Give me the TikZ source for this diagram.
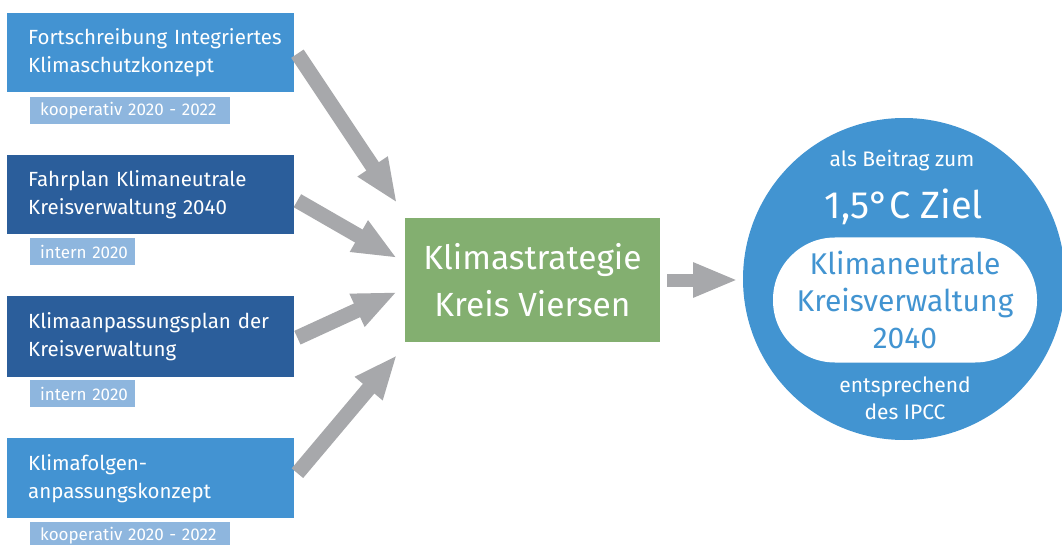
\documentclass[tikz,border=0pt]{standalone}
\usepackage{fontspec}
\setmainfont{Fira Sans}
\newfontfamily\lightf{Fira Sans}
\usetikzlibrary{arrows.meta,calc}
\definecolor{lblue}{HTML}{4393D2}
\definecolor{dblue}{HTML}{2B5E9B}
\definecolor{tblue}{HTML}{8EB6DE}
\definecolor{kgreen}{HTML}{83AF70}
\definecolor{agray}{HTML}{A7A8AB}
\definecolor{cblue}{HTML}{4294D1}
\tikzset{
  srcbox/.style={draw=none, anchor=north west, minimum width=287pt, minimum height=79pt,
    inner xsep=21pt, inner ysep=0pt, text width=245pt, align=left, text=white,
    font=\fontsize{20.5}{28}\selectfont},
  tagbox/.style={fill=tblue, anchor=north west, minimum height=27pt, inner xsep=10pt, inner ysep=0pt,
    text=white, font=\fontsize{17}{18}\selectfont, align=left},
  bigarrow/.style={draw=agray, line width=15pt, -{Triangle[length=44pt,width=33pt]}},
}
\begin{document}
\begin{tikzpicture}[x=1pt,y=-1pt]
\useasboundingbox (0,0) rectangle (1062,545);
% source boxes
\node[srcbox, fill=lblue] (b1) at (7,13) {\mbox{{\lightf Fortschreibung} Integriertes}\\\mbox{Klimaschutzkonzept}};
\node[tagbox, minimum width=200pt, text width=180pt] (t1) at (30,97) {\mbox{kooperativ 2020 - 2022}};
\node[srcbox, fill=dblue] (b2) at (7,155) {\mbox{{\lightf Fahrplan} Klimaneutrale}\\\mbox{Kreisverwaltung 2040}};
\node[tagbox, minimum width=105pt, text width=85pt] (t2) at (30,238) {\mbox{intern 2020}};
\node[srcbox, fill=dblue, minimum height=81pt] (b3) at (7,296) {\mbox{Klimaanpassungsplan der}\\\mbox{Kreisverwaltung}};
\node[tagbox, minimum width=105pt, text width=85pt] (t3) at (30,380) {\mbox{intern 2020}};
\node[srcbox, fill=lblue, minimum height=80pt] (b4) at (7,438) {\mbox{Klimafolgen-}\\\mbox{anpassungskonzept}};
\node[tagbox, minimum width=200pt, text width=180pt] (t4) at (30,522) {\mbox{kooperativ 2020 - 2022}};
% central box
\node[fill=kgreen, minimum width=255pt, minimum height=124pt, inner sep=0pt, text=white,
  align=center, font=\fontsize{33.5}{47}\selectfont] (g) at (532.5,280) {{\lightf Klimastrategie}\\Kreis Viersen};
% goal circle
\node[circle, fill=cblue, minimum size=322pt, inner sep=0pt] (c) at (904,279) {};
\node[fill=white, rounded corners=62pt, minimum width=264pt, minimum height=125pt, inner sep=0pt,
  text=cblue, align=center, font=\fontsize{30}{37}\selectfont] (w) at (905,300) {Klimaneutrale\\Kreisverwaltung\\2040};
\node[text=white, font=\lightf\fontsize{21}{22}\selectfont] (ct) at (902,161) {als Beitrag zum};
\node[text=white, font=\lightf\fontsize{38}{44}\selectfont] (cz) at (904,207) {1,5°C Ziel};
\node[text=white, align=center, font=\lightf\fontsize{21}{27}\selectfont] (cb) at (905,398) {entsprechend\\des IPCC};
% arrow anchors
\coordinate (s1) at ($(b1.east)+(3,1)$);
\coordinate (e1) at (397,203);
\coordinate (s2) at ($(b2.east)+(3,6)$);
\coordinate (e2) at (397,258);
\coordinate (s3) at ($(b3.east)+(3,1)$);
\coordinate (e3) at (397,292);
\coordinate (s4) at ($(b4.east)+(3,-5)$);
\coordinate (e4) at (397,355);
\coordinate (s5) at ($(g.east)+(7,0)$);
\coordinate (e5) at (738,280);
\draw[bigarrow] (s1) -- (e1);
\draw[bigarrow] (s2) -- (e2);
\draw[bigarrow] (s3) -- (e3);
\draw[bigarrow] (s4) -- (e4);
\draw[bigarrow, line width=13pt, -{Triangle[length=45pt,width=32pt]}] (s5) -- (e5);
\end{tikzpicture}
\end{document}
